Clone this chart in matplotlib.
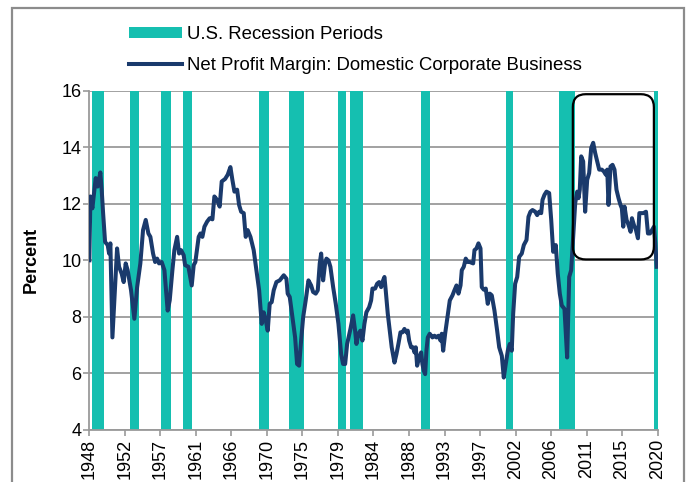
import numpy as np
import matplotlib
matplotlib.use("Agg")
import matplotlib.pyplot as plt
from matplotlib.patches import Patch, Rectangle, FancyBboxPatch
from matplotlib.lines import Line2D

plt.rcParams['font.family'] = ['Liberation Sans', 'DejaVu Sans']

# ---- data ----
years = [
    1948.00, 1948.13, 1948.38, 1948.55, 1948.80, 1949.05, 1949.39, 1949.56, 1949.74, 1949.99,
    1950.32, 1950.50, 1950.66, 1950.92, 1951.51, 1951.76, 1952.09, 1952.35, 1952.60, 1952.85,
    1953.28, 1953.70, 1954.05, 1954.46, 1954.80, 1955.14, 1955.48, 1955.73, 1956.07, 1956.33,
    1956.58, 1956.83, 1957.16, 1957.51, 1957.92, 1958.18, 1958.52, 1958.77, 1959.12, 1959.37,
    1959.62, 1959.95, 1960.13, 1960.55, 1960.97, 1961.22, 1961.43, 1961.85, 1962.07, 1962.32,
    1962.58, 1962.92, 1963.25, 1963.59, 1963.84, 1964.18, 1964.51, 1964.77, 1965.20, 1965.53,
    1965.87, 1966.12, 1966.38, 1966.72, 1966.97, 1967.23, 1967.56, 1967.81, 1968.06, 1968.41,
    1968.82, 1969.17, 1969.51, 1969.84, 1970.09, 1970.35, 1970.60, 1970.85, 1971.10, 1971.36,
    1971.70, 1972.12, 1972.63, 1972.97, 1973.13, 1973.39, 1973.73, 1974.07, 1974.32, 1974.58,
    1974.83, 1975.09, 1975.41, 1975.76, 1976.10, 1976.35, 1976.68, 1976.94, 1977.19, 1977.37,
    1977.62, 1977.87, 1978.04, 1978.29, 1978.54, 1978.89, 1979.22, 1979.56, 1979.90, 1980.15,
    1980.41, 1980.66, 1981.08, 1981.42, 1981.67, 1981.84, 1982.09, 1982.35, 1982.60, 1982.85,
    1983.10, 1983.45, 1983.70, 1983.87, 1984.21, 1984.46, 1984.72, 1984.97, 1985.22, 1985.39,
    1985.55, 1985.81, 1986.06, 1986.31, 1986.66, 1986.91, 1987.16, 1987.42, 1987.67, 1987.92,
    1988.18, 1988.34, 1988.52, 1988.77, 1989.03, 1989.19, 1989.36, 1989.53, 1989.79, 1990.04,
    1990.20, 1990.37, 1990.55, 1990.71, 1990.88, 1991.13, 1991.47, 1991.73, 1991.98, 1992.23,
    1992.49, 1992.65, 1992.83, 1993.08, 1993.34, 1993.67, 1994.01, 1994.26, 1994.52, 1994.77,
    1995.03, 1995.19, 1995.44, 1995.69, 1995.95, 1996.20, 1996.63, 1996.80, 1997.05, 1997.30,
    1997.56, 1997.72, 1997.98, 1998.23, 1998.48, 1998.74, 1998.99, 1999.33, 1999.67, 1999.93,
    2000.26, 2000.51, 2000.76, 2001.02, 2001.27, 2001.52, 2001.70, 2001.95, 2002.21, 2002.46,
    2002.79, 2003.05, 2003.39, 2003.64, 2003.89, 2004.15, 2004.49, 2004.74, 2005.00, 2005.25,
    2005.42, 2005.67, 2005.92, 2006.26, 2006.52, 2006.77, 2007.10, 2007.35, 2007.61, 2007.86,
    2008.20, 2008.54, 2008.80, 2009.05, 2009.30, 2009.56, 2009.81, 2009.98, 2010.14, 2010.32,
    2010.57, 2010.82, 2011.08, 2011.33, 2011.59, 2011.84, 2012.09, 2012.35, 2012.60, 2012.93,
    2013.18, 2013.44, 2013.62, 2013.78, 2014.03, 2014.29, 2014.54, 2014.79, 2015.05, 2015.30,
    2015.47, 2015.65, 2015.81, 2016.07, 2016.32, 2016.58, 2016.75, 2017.00, 2017.26, 2017.51,
    2017.69, 2017.94, 2018.20, 2018.53, 2018.78, 2019.04, 2019.29, 2019.54, 2019.72, 2019.88,
]
margin = [
    10.00, 12.26, 11.84, 12.26, 12.91, 12.61, 13.11, 12.50, 11.67, 10.65,
    10.54, 10.24, 10.60, 7.27, 10.42, 9.77, 9.53, 9.23, 9.89, 9.65,
    8.94, 7.93, 9.05, 9.89, 11.07, 11.43, 10.95, 10.83, 10.24, 9.94,
    10.06, 9.89, 9.94, 9.65, 8.22, 8.58, 9.65, 10.36, 10.83, 10.24,
    10.36, 10.18, 9.83, 9.77, 9.11, 9.83, 9.94, 10.83, 10.95, 10.83,
    11.19, 11.37, 11.49, 11.45, 12.26, 12.14, 11.90, 12.79, 12.88, 13.03,
    13.30, 12.85, 12.43, 12.50, 11.96, 11.72, 11.67, 10.83, 11.07, 10.83,
    10.36, 9.65, 8.94, 7.75, 8.16, 7.87, 7.51, 8.46, 8.52, 8.94,
    9.23, 9.29, 9.47, 9.35, 8.82, 8.70, 7.99, 7.27, 6.33, 6.27,
    7.16, 7.99, 8.58, 9.29, 9.11, 8.88, 8.82, 8.94, 9.89, 10.24,
    9.29, 9.89, 10.06, 10.00, 9.77, 9.05, 8.46, 7.75, 6.68, 6.33,
    6.33, 7.04, 7.57, 8.05, 7.51, 7.04, 7.40, 7.51, 7.16, 7.75,
    8.16, 8.34, 8.58, 9.00, 9.00, 9.17, 9.23, 9.05, 9.29, 9.41,
    8.94, 8.11, 7.51, 6.92, 6.38, 6.68, 7.04, 7.45, 7.45, 7.57,
    7.45, 7.51, 7.16, 6.92, 6.92, 6.74, 6.92, 6.27, 6.56, 6.74,
    6.33, 6.09, 5.97, 6.80, 7.27, 7.40, 7.27, 7.33, 7.27, 7.33,
    7.16, 7.40, 6.80, 7.40, 7.93, 8.58, 8.76, 8.94, 9.11, 8.82,
    9.11, 9.65, 9.77, 10.06, 9.94, 9.94, 9.89, 10.36, 10.42, 10.60,
    10.42, 9.05, 8.96, 9.00, 8.46, 8.82, 8.76, 8.22, 7.51, 6.92,
    6.62, 5.85, 6.33, 6.80, 7.04, 6.80, 8.11, 9.17, 9.41, 10.12,
    10.24, 10.54, 10.72, 11.54, 11.72, 11.78, 11.72, 11.60, 11.72, 11.67,
    12.14, 12.32, 12.43, 12.38, 11.43, 10.30, 10.54, 9.53, 8.82, 8.40,
    8.28, 6.56, 9.41, 9.65, 10.83, 12.02, 12.43, 12.20, 12.50, 13.68,
    13.50, 11.72, 12.85, 13.09, 13.98, 14.16, 13.80, 13.50, 13.21, 13.21,
    13.15, 13.03, 13.21, 11.96, 13.32, 13.38, 13.21, 12.50, 12.20, 11.96,
    11.84, 11.19, 11.90, 11.43, 11.25, 11.01, 11.49, 11.25, 11.07, 10.78,
    11.67, 11.67, 11.67, 11.72, 10.95, 10.95, 11.07, 11.19, 10.60, 9.77,
]
recession_start = [1948.38, 1953.11, 1957.13, 1959.82, 1969.55, 1973.26,
                   1979.56, 1980.99, 1989.99, 2000.75, 2007.54, 2019.60]
recession_end = [1949.81, 1954.34, 1958.30, 1961.05, 1970.78, 1975.25,
                 1980.48, 1982.73, 1991.22, 2001.74, 2009.51, 2020.10]
tick_labels = ['1948', '1952', '1957', '1961', '1966', '1970', '1975', '1979', '1984',
               '1988', '1993', '1997', '2002', '2006', '2011', '2015', '2020']
y_ticks = [4, 6, 8, 10, 12, 14, 16]

teal = '#15BFB0'
navy = '#1A3A6C'
grid_gray = '#9A9A9A'

fig = plt.figure(figsize=(6.88, 4.82), dpi=100)
ax = fig.add_axes([0.1299, 0.1083, 0.8259, 0.7033])

# recession bars
for s, e in zip(recession_start, recession_end):
    ax.axvspan(s, e, color=teal, lw=0, zorder=2)

ax.plot(years, margin, color=navy, lw=2.9, zorder=3, solid_joinstyle='round')

# rounded highlight box
bx0, bx1, by0, by1 = 2009.26, 2019.53, 10.03, 15.88
rad_years = 1.65
aspect = (1 / 28.25) / (1 / 7.89)
box = FancyBboxPatch((bx0, by0), bx1 - bx0, by1 - by0,
                     boxstyle=f"round,pad=0,rounding_size={rad_years}",
                     mutation_aspect=aspect, fc='none', ec='black', lw=1.6, zorder=4)
ax.add_patch(box)

ax.set_xlim(1948, 2020)
ax.set_ylim(4, 16)
ax.set_yticks(y_ticks)
ax.set_xticks(np.linspace(1948, 2020, len(tick_labels)))
ax.set_xticklabels(tick_labels, rotation=90)
ax.tick_params(axis='both', labelsize=13, colors=grid_gray, labelcolor='black',
               length=4, width=1.2, direction='out')
ax.tick_params(axis='x', pad=2.5)
ax.tick_params(axis='y', pad=1.5)

ax.grid(axis='y', color=grid_gray, lw=1.3, zorder=0)
ax.set_axisbelow(True)
for side in ['top', 'right']:
    ax.spines[side].set_visible(False)
for side in ['left', 'bottom']:
    ax.spines[side].set_color(grid_gray)
    ax.spines[side].set_linewidth(1.3)

ax.set_ylabel('Percent', fontsize=13, fontweight='bold')
ax.yaxis.set_label_coords(-0.087, 0.5)

handles = [Patch(facecolor=teal, edgecolor='none'),
           Line2D([0], [0], color=navy, lw=2.9)]
labels = ['U.S. Recession Periods', 'Net Profit Margin: Domestic Corporate Business']
fig.legend(handles, labels, loc='upper left', bbox_to_anchor=(0.176, 0.962),
           frameon=False, fontsize=13.4, handlelength=2.85, handleheight=0.55,
           handletextpad=0.3, labelspacing=0.76, borderaxespad=0)

# outer frame
fig.patches.append(Rectangle((0.0174, -0.02), 0.9775, 1.0034, transform=fig.transFigure,
                             fill=False, ec='#8C8C8C', lw=1.6))

fig.savefig('out.png', dpi=100)
